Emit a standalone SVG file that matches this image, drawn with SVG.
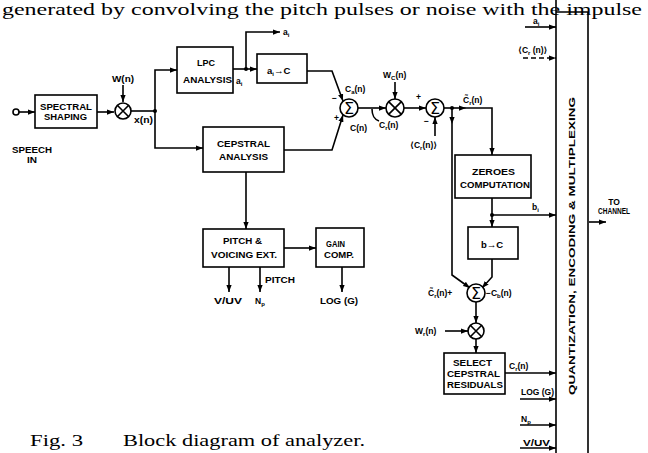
<svg xmlns="http://www.w3.org/2000/svg" width="648" height="453" viewBox="0 0 648 453">
<defs>
<style>
.l{font-family:"Liberation Sans",Arial,"DejaVu Sans",sans-serif;font-weight:bold;font-size:8.5px;fill:#000}
.s{font-size:6px}
.sg{font-family:"DejaVu Sans","Liberation Sans",sans-serif;font-size:16px;font-weight:normal;fill:#000}
.w{stroke:#000;stroke-width:1.6;fill:none}
.b{stroke:#000;stroke-width:1.6;fill:#fff}
.a{marker-end:url(#ah)}
.serif{font-family:"Liberation Serif","Times New Roman",serif;fill:#000}
</style>
<marker id="ah" viewBox="0 0 8 6" markerWidth="7" markerHeight="5.5" refX="8" refY="3" orient="auto" markerUnits="userSpaceOnUse">
<path d="M0,0 L8,3 L0,6 z" fill="#000"/>
</marker>
</defs>
<rect width="648" height="453" fill="#fff"/>

<text class="serif" x="2" y="15" font-size="16" textLength="640" lengthAdjust="spacingAndGlyphs">generated by convolving the pitch pulses or noise with the impulse</text>

<g id="connectors">
<circle cx="16" cy="112" r="3" class="w"/>
<path class="w a" d="M19,112 H35"/>
<path class="w a" d="M97,112 H114"/>
<path class="w a" d="M123,85 V102"/>
<path class="w" d="M131,111 H155"/>
<path class="w a" d="M155,111 V70 H177"/>
<path class="w a" d="M155,111 V148 H203"/>
<circle cx="155" cy="111" r="2" fill="#000"/>
<path class="w a" d="M233,69 H257"/>
<path class="w a" d="M246,69 V32 H280"/>
<circle cx="246" cy="69" r="2" fill="#000"/>
<path class="w a" d="M307,71 H332 L343,101"/>
<path class="w a" d="M284,150 H332 L343,115"/>
<path class="w a" d="M358,108 H386"/>
<path class="w" d="M372,109 C372,116 374,119 379,121"/>
<path class="w a" d="M395,82 V99"/>
<path class="w a" d="M404,108 H426"/>
<path class="w a" d="M435,136 V117"/>
<path class="w" d="M444,108 H452"/>
<circle cx="452" cy="108" r="2" fill="#000"/>
<path class="w a" d="M452,108 H466"/>
<path class="w a" d="M466,108 H492 V155"/>
<path class="w a" d="M452,108 V124"/>
<path class="w a" d="M452,124 V275 L470,288"/>
<path class="w" d="M492,198 V215"/>
<circle cx="492" cy="215" r="2" fill="#000"/>
<path class="w a" d="M492,215 V227"/>
<path class="w a" d="M492,215 H556"/>
<path class="w a" d="M492,259 V277 L482,288"/>
<path class="w a" d="M476,302 V323"/>
<path class="w a" d="M445,331 H468"/>
<path class="w a" d="M476,339 V353"/>
<path class="w a" d="M505,373 H556"/>
<path class="w a" d="M520,399 H556"/>
<path class="w a" d="M520,425 H556"/>
<path class="w a" d="M520,448 H556"/>
<path class="w a" d="M525,27 H556"/>
<path class="w a" d="M523,58 H556" stroke-dasharray="5,3"/>
<path class="w a" d="M589,222 H606"/>
<path class="w a" d="M246,172 V229"/>
<path class="w a" d="M284,248 H316"/>
<path class="w a" d="M229,267 V292"/>
<path class="w a" d="M260,267 V292"/>
<path class="w a" d="M342,267 V292"/>
</g>

<g id="spectral-shaping">
<rect x="35" y="95" width="62" height="33" class="b"/>
<text class="l" x="40" y="110" textLength="52" lengthAdjust="spacingAndGlyphs">SPECTRAL</text>
<text class="l" x="44" y="120" textLength="43" lengthAdjust="spacingAndGlyphs">SHAPING</text>
</g>
<g id="speech-in">
<text class="l" x="12" y="153" textLength="40" lengthAdjust="spacingAndGlyphs">SPEECH</text>
<text class="l" x="27" y="163" textLength="10" lengthAdjust="spacingAndGlyphs">IN</text>
</g>
<g id="mult1">
<circle cx="123" cy="111" r="8" class="b"/>
<path class="w" d="M117.3,105.3 L128.7,116.7 M128.7,105.3 L117.3,116.7"/>
<text class="l" x="112" y="82" textLength="22" lengthAdjust="spacingAndGlyphs">W(n)</text>
<text class="l" x="134" y="123" textLength="19" lengthAdjust="spacingAndGlyphs">x(n)</text>
</g>
<g id="lpc">
<rect x="177" y="47" width="56" height="46" class="b"/>
<text class="l" x="197" y="66" textLength="18" lengthAdjust="spacingAndGlyphs">LPC</text>
<text class="l" x="183" y="83" textLength="49" lengthAdjust="spacingAndGlyphs">ANALYSIS</text>
<text class="l" x="236" y="84">a<tspan class="s" dy="2">i</tspan></text>
<text class="l" x="283" y="35">a<tspan class="s" dy="2">i</tspan></text>
</g>
<g id="ai-to-c">
<rect x="257" y="54" width="50" height="29" class="b"/>
<text class="l" x="267" y="74" style="font-size:9.5px">a<tspan class="s" dy="2">i</tspan><tspan dy="-2">→C</tspan></text>
</g>
<g id="cepstral">
<rect x="203" y="127" width="81" height="45" class="b"/>
<text class="l" x="217" y="147" textLength="53" lengthAdjust="spacingAndGlyphs">CEPSTRAL</text>
<text class="l" x="219" y="160" textLength="49" lengthAdjust="spacingAndGlyphs">ANALYSIS</text>
</g>
<g id="pitch">
<rect x="203" y="229" width="81" height="38" class="b"/>
<text class="l" x="223" y="244" textLength="39" lengthAdjust="spacingAndGlyphs">PITCH &amp;</text>
<text class="l" x="211" y="258" textLength="66" lengthAdjust="spacingAndGlyphs">VOICING EXT.</text>
<text class="l" x="265" y="283" textLength="30" lengthAdjust="spacingAndGlyphs">PITCH</text>
<text class="l" x="214" y="304" textLength="28" lengthAdjust="spacingAndGlyphs">V/UV</text>
<text class="l" x="255" y="304">N<tspan class="s" dy="2">p</tspan></text>
</g>
<g id="gain">
<rect x="316" y="228" width="48" height="39" class="b"/>
<text class="l" x="326" y="247" textLength="19" lengthAdjust="spacingAndGlyphs">GAIN</text>
<text class="l" x="324" y="258" textLength="30" lengthAdjust="spacingAndGlyphs">COMP.</text>
<text class="l" x="320" y="304" textLength="38" lengthAdjust="spacingAndGlyphs">LOG (G)</text>
</g>
<g id="sum1">
<circle cx="349" cy="108" r="9" class="b"/>
<text class="sg" x="349" y="114" text-anchor="middle">Σ</text>
<text class="l" x="345" y="92">C<tspan class="s" dy="2">a</tspan><tspan dy="-2">(n)</tspan></text>
<text class="l" x="350" y="131">C(n)</text>
<text class="l" x="332" y="101">−</text>
<text class="l" x="334" y="121">+</text>
</g>
<g id="mult2">
<circle cx="395" cy="108" r="9" class="b"/>
<path class="w" d="M388.6,101.6 L401.4,114.4 M401.4,101.6 L388.6,114.4"/>
<text class="l" x="383" y="78">W<tspan class="s" dy="2">C</tspan><tspan dy="-2">(n)</tspan></text>
<text class="l" x="379" y="128">C<tspan class="s" dy="2">r</tspan><tspan dy="-2">(n)</tspan></text>
</g>
<g id="sum2">
<circle cx="435" cy="108" r="9" class="b"/>
<text class="sg" x="435" y="114" text-anchor="middle">Σ</text>
<text class="l" x="416" y="100">+</text>
<text class="l" x="424" y="124">−</text>
<text class="l" x="410" y="148">⟨C<tspan class="s" dy="2">r</tspan><tspan dy="-2">(n)⟩</tspan></text>
<text class="l" x="463" y="103">C̃<tspan class="s" dy="2">r</tspan><tspan dy="-2">(n)</tspan></text>
</g>
<g id="zeroes">
<rect x="455" y="155" width="76" height="43" class="b"/>
<text class="l" x="472" y="175" textLength="43" lengthAdjust="spacingAndGlyphs">ZEROES</text>
<text class="l" x="460" y="188" textLength="70" lengthAdjust="spacingAndGlyphs">COMPUTATION</text>
<text class="l" x="532" y="210">b<tspan class="s" dy="2">i</tspan></text>
</g>
<g id="b-to-c">
<rect x="468" y="227" width="50" height="32" class="b"/>
<text class="l" x="481" y="248" style="font-size:9.5px">b→C</text>
</g>
<g id="sum3">
<circle cx="476" cy="293" r="9" class="b"/>
<text class="sg" x="476" y="299" text-anchor="middle">Σ</text>
<text class="l" x="428" y="296">C̃<tspan class="s" dy="2">r</tspan><tspan dy="-2">(n)+</tspan></text>
<text class="l" x="486" y="296">−C<tspan class="s" dy="2">b</tspan><tspan dy="-2">(n)</tspan></text>
</g>
<g id="mult3">
<circle cx="476" cy="331" r="8" class="b"/>
<path class="w" d="M470.3,325.3 L481.7,336.7 M481.7,325.3 L470.3,336.7"/>
<text class="l" x="415" y="334">W<tspan class="s" dy="2">r</tspan><tspan dy="-2">(n)</tspan></text>
</g>
<g id="select">
<rect x="444" y="353" width="61" height="41" class="b"/>
<text class="l" x="453" y="366" textLength="39" lengthAdjust="spacingAndGlyphs">SELECT</text>
<text class="l" x="447" y="377" textLength="53" lengthAdjust="spacingAndGlyphs">CEPSTRAL</text>
<text class="l" x="447" y="388" textLength="56" lengthAdjust="spacingAndGlyphs">RESIDUALS</text>
</g>
<g id="mux-inputs">
<text class="l" x="533" y="24">a<tspan class="s" dy="2">i</tspan></text>
<text class="l" x="518" y="53">⟨C<tspan class="s" dy="2">r</tspan><tspan dy="-2"> (n)⟩</tspan></text>
<text class="l" x="509" y="369">C<tspan class="s" dy="2">r</tspan><tspan dy="-2">(n)</tspan></text>
<text class="l" x="521" y="395" textLength="33" lengthAdjust="spacingAndGlyphs">LOG (G)</text>
<text class="l" x="521" y="422">N<tspan class="s" dy="2">p</tspan></text>
<text class="l" x="523" y="446" textLength="27" lengthAdjust="spacingAndGlyphs">V/UV</text>
</g>
<g id="mux">
<path class="w" d="M556,0 V460 M556,12 H588 V460"/>
<text class="l" transform="translate(575,246) rotate(-90)" text-anchor="middle" style="font-size:9px" textLength="298" lengthAdjust="spacingAndGlyphs">QUANTIZATION, ENCODING &amp; MULTIPLEXING</text>
<text class="l" x="614" y="205" text-anchor="middle">TO</text>
<text class="l" x="598" y="214" textLength="32" lengthAdjust="spacingAndGlyphs">CHANNEL</text>
</g>

<g id="caption">
<text class="serif" x="30" y="446" font-size="17" textLength="53" lengthAdjust="spacingAndGlyphs">Fig. 3</text>
<text class="serif" x="123" y="446" font-size="17" textLength="242" lengthAdjust="spacingAndGlyphs">Block diagram of analyzer.</text>
</g>
</svg>
